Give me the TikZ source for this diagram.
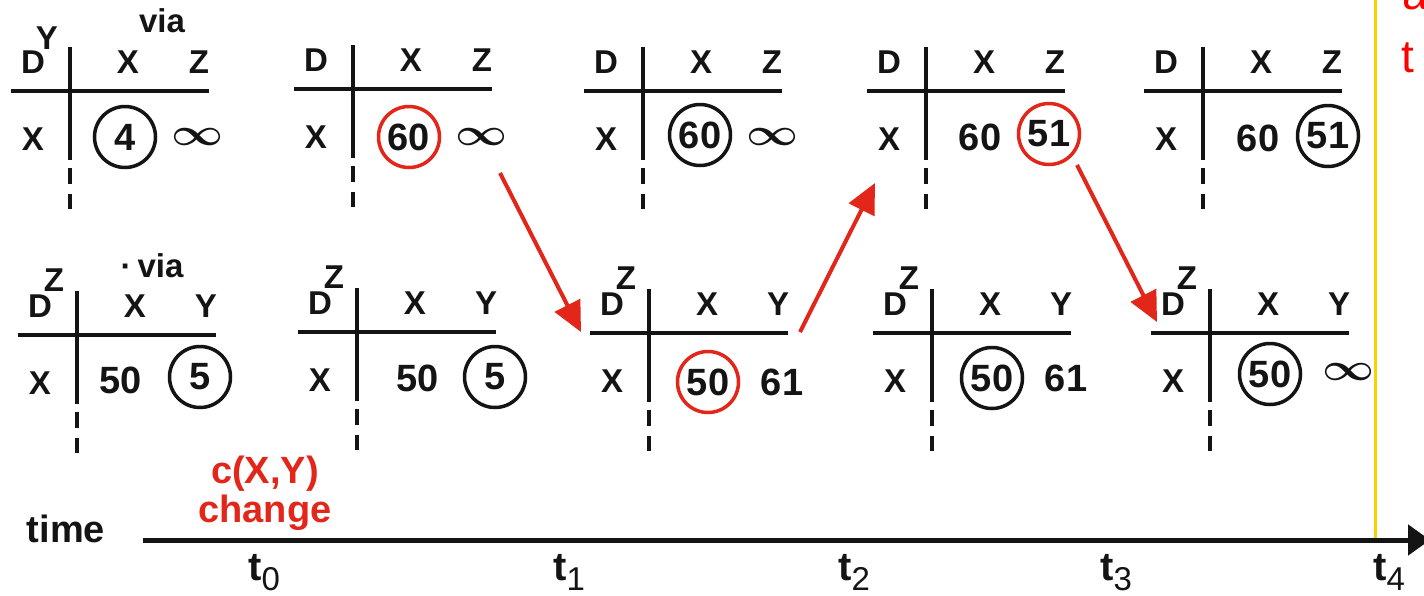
\documentclass[tikz,border=0pt]{standalone}
\usepackage{fontspec}
\setmainfont{Liberation Sans}
\usetikzlibrary{arrows.meta}

\definecolor{dvred}{RGB}{226,38,26}
\definecolor{brightred}{RGB}{255,0,0}
\definecolor{dvgold}{RGB}{255,208,0}
\definecolor{ink}{RGB}{20,20,20}

\newcommand{\infsym}{\resizebox{52pt}{17pt}{\boldmath$\infty$}}
\newcommand{\tlab}[1]{t\raisebox{-10pt}{\fontsize{33}{33}\selectfont\mdseries #1}}

\begin{document}
\begin{tikzpicture}[x=1pt, y=-1pt,
  rule/.style={ink, line width=4.5pt},
  hd/.style={ink, inner sep=0pt, font=\fontsize{33}{33}\selectfont\bfseries},
  num/.style={ink, inner sep=0pt, font=\fontsize{38}{38}\selectfont\bfseries},
  ring/.style={num, draw=ink, circle, line width=3.5pt, minimum size=61pt},
  redring/.style={ring, draw=dvred},
  inf/.style={ink, inner sep=0pt},
  redarr/.style={dvred, line width=4pt, -{Triangle[length=30pt,width=28pt]}},
  lab/.style={inner sep=0pt, anchor=base, font=\fontsize{38}{38}\selectfont\bfseries},
  tick/.style={ink, inner sep=0pt, anchor=base west, font=\fontsize{40}{40}\selectfont\bfseries}]
\useasboundingbox (0,0) rectangle (1424,595);

\foreach \n/\cx/\cy/\h in {t1/70/91/Z, t2/353/89/Z, t3/643/91/Z, t4/926/91/Z, t5/1203/91/Z,
                           b1/77/335/Y, b2/357/332/Y, b3/649/333/Y, b4/932/333/Y, b5/1210/333/Y} {
  \draw[rule] (\cx-59,\cy) -- (\cx+139,\cy);
  \draw[rule] (\cx,\cy-44) -- (\cx,\cy+69);
  \draw[rule] (\cx,\cy+77) -- (\cx,\cy+93);
  \draw[rule] (\cx,\cy+103) -- (\cx,\cy+118);
  \node[hd] (\n-d) at (\cx-37,\cy-29) {D};
  \node[hd] (\n-x) at (\cx+58,\cy-29) {X};
  \node[hd] (\n-h) at (\cx+129,\cy-29) {\h};
  \node[hd] (\n-r) at (\cx-37,\cy+48) {X};
}
\foreach \n/\cx/\cy in {b1/77/335, b2/357/332, b3/649/333, b4/932/333, b5/1210/333}
  \node[hd] (\n-z) at (\cx-23,\cy-55) {Z};
\node[hd] (t1-y) at (47,38) {Y};
\node[hd] (t1-via) at (162,21) {via};
\node[hd] (b1-via) at (152,266) {·\hspace{6pt}via};

\node[ring] (t1-v1) at (125,137) {4};
\node[inf] (t1-v2) at (198,137) {\infsym};
\node[redring] (t2-v1) at (409,137) {60};
\node[inf] (t2-v2) at (482,137) {\infsym};
\node[ring] (t3-v1) at (700,135) {60};
\node[inf] (t3-v2) at (772,137) {\infsym};
\node[num] (t4-v1) at (980,137) {60};
\node[redring] (t4-v2) at (1049,134) {51};
\node[num] (t5-v1) at (1258,138) {60};
\node[ring] (t5-v2) at (1328,136) {51};

\node[num] (b1-v1) at (121,380) {50};
\node[ring] (b1-v2) at (200,377) {5};
\node[num] (b2-v1) at (418,378) {50};
\node[ring] (b2-v2) at (495,377) {5};
\node[redring] (b3-v1) at (708,382) {50};
\node[num] (b3-v2) at (782,382) {61};
\node[ring] (b4-v1) at (992,378) {50};
\node[num] (b4-v2) at (1066,378) {61};
\node[ring] (b5-v1) at (1270,374) {50};
\node[inf] (b5-v2) at (1348,372) {\infsym};

\coordinate (a1s) at (500,173);
\coordinate (a1e) at (581,332);
\coordinate (a2s) at (800,332);
\coordinate (a2e) at (875,183);
\coordinate (a3s) at (1077,165);
\coordinate (a3e) at (1157,322);
\draw[redarr] (a1s) -- (a1e);
\draw[redarr] (a2s) -- (a2e);
\draw[redarr] (a3s) -- (a3e);

\coordinate (g-top) at (1375,0);
\coordinate (g-bot) at (1375,540);
\draw[dvgold, line width=3pt] (g-top) -- (g-bot);
\coordinate (t-start) at (143,540);
\coordinate (t-end) at (1430,540);
\draw[ink, line width=5pt, -{Triangle[length=22pt,width=30pt]}] (t-start) -- (t-end);

\node[lab, ink] (time) at (66,542) {time};
\node[lab, dvred] (cxy) at (265,483) {c(X,Y)};
\node[lab, dvred] (chg) at (265,522) {change};
\foreach \i/\x in {0/248,1/553,2/838,3/1100,4/1373}
  \node[tick] (tk\i) at (\x,580) {\tlab{\i}};

\node[brightred, inner sep=0pt, anchor=base west, font=\fontsize{46}{46}\selectfont] (alg) at (1402,9) {a};
\node[brightred, inner sep=0pt, anchor=base west, font=\fontsize{46}{46}\selectfont] (term) at (1401,72) {t};
\end{tikzpicture}
\end{document}
